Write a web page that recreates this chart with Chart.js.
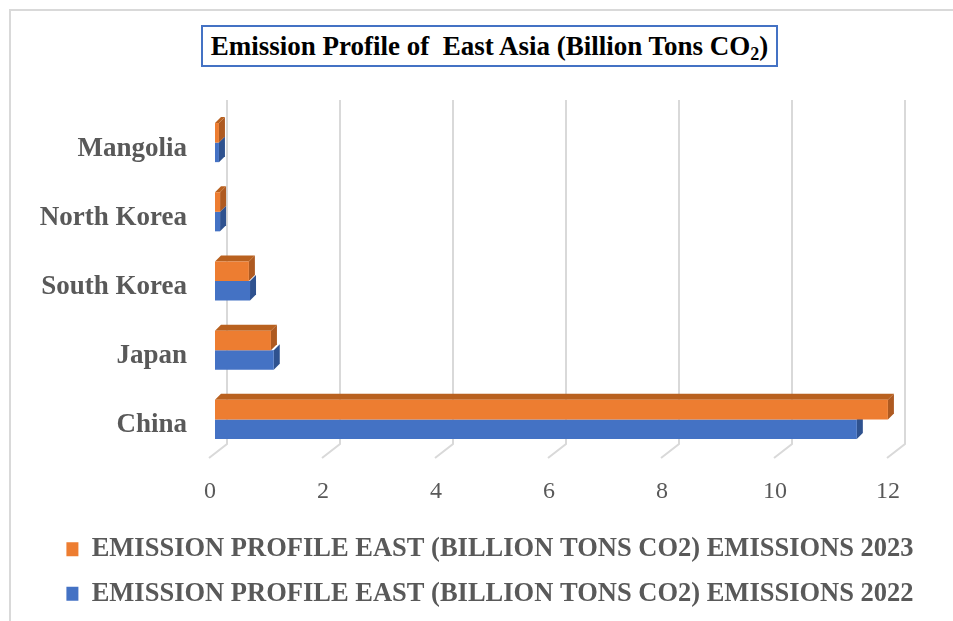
<!DOCTYPE html>
<html>
<head>
<meta charset="utf-8">
<script src="https://cdn.jsdelivr.net/npm/chart.js@4/dist/chart.umd.min.js"></script>
<style>
  html, body { margin: 0; padding: 0; background: #fff; overflow: hidden; }
  #wrap { position: relative; width: 953px; height: 621px; overflow: hidden; }
  #frame { position: absolute; left: 9px; top: 9px; width: 1000px; height: 700px; border: 2px solid #d9d9d9; box-sizing: border-box; }
  #title { position: absolute; left: 201px; top: 25px; width: 577px; height: 42px; box-sizing: border-box;
           border: 2px solid #4472C4; background: #fff;
           font-family: "Liberation Serif", "Times New Roman", serif; font-weight: bold; font-size: 27px;
           color: #000; text-align: center; line-height: 38px; white-space: pre; }
  #title sub { font-size: 18px; line-height: 0; vertical-align: -5px; }
  canvas { position: absolute; left: 0; top: 0; }
</style>
</head>
<body>
<div id="wrap">
  <div id="frame"></div>
  <canvas id="c" width="953" height="621"></canvas>
  <div id="title">Emission Profile of  East Asia (Billion Tons CO<sub>2</sub>)</div>
</div>
<script>
const categories = ['Mangolia', 'North Korea', 'South Korea', 'Japan', 'China'];
const emissions2023 = [0.07, 0.09, 0.60, 0.99, 11.91];
const emissions2022 = [0.07, 0.09, 0.62, 1.04, 11.36];
const seriesLabels = [
  'EMISSION PROFILE EAST (BILLION TONS CO2) EMISSIONS 2023',
  'EMISSION PROFILE EAST (BILLION TONS CO2) EMISSIONS 2022'
];
const xTicksMax = 12;

const FONT = '"Liberation Serif", "Times New Roman", serif';
const GRAY = '#595959';
const DEPTH = 6;

const shadeColors = {
  0: { side: '#AE5A21', top: '#B9611F' },
  1: { side: '#2F528F', top: '#3A62A8' }
};

const depthPlugin = {
  id: 'depth3d',
  beforeDatasetsDraw(chart) {
    const ctx = chart.ctx;
    const x = chart.scales.x;
    const area = chart.chartArea;
    ctx.save();
    ctx.strokeStyle = '#d9d9d9';
    ctx.lineWidth = 2;
    x.ticks.forEach(t => {
      const px = x.getPixelForValue(t.value);
      const back = px + 2 * DEPTH;
      ctx.beginPath();
      ctx.moveTo(back, area.top - 8);
      ctx.lineTo(back, area.bottom - 10);
      ctx.lineTo(px - DEPTH, area.bottom + 4);
      ctx.stroke();
    });
    for (let di = chart.data.datasets.length - 1; di >= 0; di--) {
      const meta = chart.getDatasetMeta(di);
      meta.data.forEach(bar => {
        const p = bar.getProps(['x', 'y', 'base', 'height'], true);
        const top = p.y - p.height / 2;
        const bot = p.y + p.height / 2;
        ctx.fillStyle = shadeColors[di].side;
        ctx.beginPath();
        ctx.moveTo(p.x, top);
        ctx.lineTo(p.x + DEPTH, top - DEPTH);
        ctx.lineTo(p.x + DEPTH, bot - DEPTH);
        ctx.lineTo(p.x, bot);
        ctx.closePath();
        ctx.fill();
        if (di === 0) {
          ctx.fillStyle = shadeColors[di].top;
          ctx.beginPath();
          ctx.moveTo(p.base, top);
          ctx.lineTo(p.base + DEPTH, top - DEPTH);
          ctx.lineTo(p.x + DEPTH, top - DEPTH);
          ctx.lineTo(p.x, top);
          ctx.closePath();
          ctx.fill();
        }
      });
    }
    ctx.restore();
  }
};

new Chart(document.getElementById('c'), {
  type: 'bar',
  data: {
    labels: categories,
    datasets: [
      { label: seriesLabels[0], data: emissions2023, backgroundColor: '#ED7D31', borderWidth: 0 },
      { label: seriesLabels[1], data: emissions2022, backgroundColor: '#4472C4', borderWidth: 0 }
    ]
  },
  options: {
    indexAxis: 'y',
    responsive: false,
    animation: false,
    devicePixelRatio: 1,
    layout: { padding: { left: 27, right: 0, top: 108, bottom: 4 } },
    datasets: { bar: { categoryPercentage: 0.565, barPercentage: 1.0 } },
    scales: {
      x: {
        min: 0, max: xTicksMax,
        grid: { display: false, drawTicks: false },
        border: { display: false },
        ticks: { stepSize: 2, padding: 23, labelOffset: -5, color: GRAY,
                 font: { family: FONT, size: 24 } },
        afterFit(s) { s.height = 64; }
      },
      y: {
        grid: { display: false, drawTicks: false },
        border: { display: false },
        ticks: { padding: 28, labelOffset: 6, color: GRAY,
                 font: { family: FONT, size: 27, weight: 'bold' } },
        afterFit(s) { s.width = 188; }
      },
      yRightSpace: {
        type: 'linear',
        position: 'right',
        display: true,
        grid: { display: false, drawTicks: false },
        border: { display: false },
        ticks: { display: false },
        afterFit(s) { s.width = 60; }
      }
    },
    plugins: {
      tooltip: { enabled: false },
      title: { display: false },
      legend: {
        position: 'bottom',
        align: 'center',
        labels: {
          boxWidth: 12, boxHeight: 14, padding: 18, color: GRAY,
          font: { family: FONT, size: 26.5, weight: 'bold' }
        }
      }
    }
  },
  plugins: [depthPlugin]
});
</script>
</body>
</html>
